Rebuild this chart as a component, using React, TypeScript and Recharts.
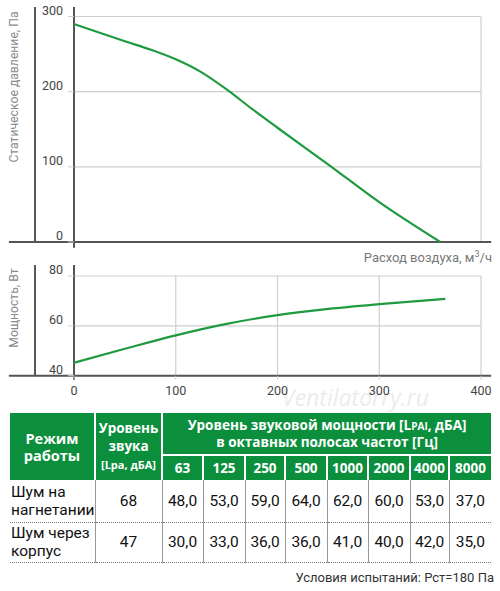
import { LineChart, Line, XAxis, YAxis, CartesianGrid, ReferenceLine } from 'recharts';

// fan curve: static pressure vs air flow
const flow = [0, 50, 75, 100, 125, 150, 175, 200, 250, 300, 360];
const pressure = [290, 267, 256, 243, 226, 203, 177, 152, 103, 53, 0];
// power consumption vs air flow
const powerFlow = [0, 50, 100, 150, 200, 250, 300, 365];
const power = [45.2, 50.8, 56.2, 60.8, 64.3, 66.8, 68.7, 70.8];

const flowTicks = [0, 100, 200, 300, 400];
const pressureTicks = [0, 100, 200, 300];
const powerTicks = [40, 60, 80];

// noise table
const modes = [['Шум на', 'нагнетании'], ['Шум через', 'корпус']];
const soundLevel = [68, 47];
const bands = ['63', '125', '250', '500', '1000', '2000', '4000', '8000'];
const bandLevels = [
    [48.0, 53.0, 59.0, 64.0, 62.0, 60.0, 53.0, 37.0],
    [30.0, 33.0, 36.0, 36.0, 41.0, 40.0, 42.0, 35.0],
];
const colWidths = [85, 67, 41, 42, 40, 42, 41, 42, 39, 42];

const pressureData = flow.map((f, i) => ({ flow: f, value: pressure[i] }));
const powerData = powerFlow.map((f, i) => ({ flow: f, value: power[i] }));

const GREEN = '#1e9a3f';
const HEADER = '#0b8f3d';
const AXIS = '#555';
const GRID = '#cfcfcf';
const FONT = '"Open Sans", sans-serif';
const BODY_FONT = 'Roboto, sans-serif';

const YTick = ({ x, y, payload }: any) => (
    <text x={x} y={y - 2} textAnchor="end" fill="#444" fontSize={12.5} fontFamily={BODY_FONT}>
        {payload.value}
    </text>
);

const XTick = ({ x, y, payload }: any) => (
    <text x={x} y={y} dy="0.71em" textAnchor="middle" fill="#444" fontSize={12.5} fontFamily={BODY_FONT}>
        {payload.value}
    </text>
);

const fmt = (v: number) => v.toFixed(1).replace('.', ',');

const th: React.CSSProperties = {
    background: HEADER,
    color: '#fff',
    fontWeight: 700,
    textAlign: 'center',
    borderRight: '2px solid #fff',
    padding: 0,
    fontFamily: FONT,
};

const td: React.CSSProperties = {
    borderLeft: '1px solid #999',
    borderBottom: '1px dotted #777',
    textAlign: 'center',
    padding: 0,
    fontSize: 15.5,
    color: '#111',
    fontFamily: BODY_FONT,
};

export default function App() {
    return (
        <div style={{ position: 'absolute', left: 0, top: 0, width: 500, height: 591, background: '#fff', fontFamily: BODY_FONT }}>
            {/* Pressure chart */}
            <div style={{ position: 'absolute', left: 0, top: 0 }}>
                <LineChart width={500} height={255} data={pressureData} margin={{ top: 16.5, right: 19, bottom: 5, left: 0 }}>
                    <CartesianGrid stroke={GRID} strokeWidth={1.2} />
                    <XAxis dataKey="flow" type="number" domain={[0, 400]} ticks={flowTicks} height={8}
                        axisLine={false} tick={false} tickLine={{ stroke: GRID }} tickSize={5} />
                    <YAxis type="number" domain={[0, 300]} ticks={pressureTicks} width={74}
                        axisLine={false} tickLine={{ stroke: GRID }} tickSize={6} tickMargin={5} tick={<YTick />} />
                    <ReferenceLine segment={[{ x: -64, y: 0 }, { x: 410, y: 0 }]} stroke={AXIS} strokeWidth={2} ifOverflow="visible" />
                    <ReferenceLine segment={[{ x: 0, y: -7.6 }, { x: 0, y: 312.6 }]} stroke={AXIS} strokeWidth={2} ifOverflow="visible" />
                    <ReferenceLine segment={[{ x: -38.3, y: 0 }, { x: -38.3, y: 312.6 }]} stroke={AXIS} strokeWidth={2} ifOverflow="visible" />
                    <Line type="monotone" dataKey="value" stroke={GREEN} strokeWidth={2.2} dot={false} isAnimationActive={false} />
                </LineChart>
            </div>
            <div style={{ position: 'absolute', left: 14, top: 87, transform: 'translate(-50%, -50%) rotate(-90deg)', whiteSpace: 'nowrap', fontSize: 12.2, color: '#8a8a8a' }}>
                Статическое давление, Па
            </div>
            <div style={{ position: 'absolute', right: 8, top: 249, whiteSpace: 'nowrap', fontSize: 13, color: '#777' }}>
                Расход воздуха, м<sup style={{ fontSize: 9 }}>3</sup>/ч
            </div>

            {/* watermark */}
            <div style={{ position: 'absolute', left: 282, top: 381, fontSize: 23, fontStyle: 'italic', color: '#ececec', whiteSpace: 'nowrap', fontFamily: FONT }}>
                Ventilatorry.ru
            </div>

            {/* Power chart */}
            <div style={{ position: 'absolute', left: 0, top: 255 }}>
                <LineChart width={500} height={150} data={powerData} margin={{ top: 21, right: 19, bottom: 0, left: 0 }}>
                    <CartesianGrid stroke={GRID} strokeWidth={1.2} />
                    <XAxis dataKey="flow" type="number" domain={[0, 400]} ticks={flowTicks} height={29.3}
                        axisLine={false} tickLine={{ stroke: GRID }} tickSize={4} tickMargin={6} tick={<XTick />} />
                    <YAxis type="number" domain={[40, 80]} ticks={powerTicks} width={74}
                        axisLine={false} tickLine={{ stroke: GRID }} tickSize={6} tickMargin={5} tick={<YTick />} />
                    <ReferenceLine segment={[{ x: -64, y: 40 }, { x: 410, y: 40 }]} stroke={AXIS} strokeWidth={2} ifOverflow="visible" />
                    <ReferenceLine segment={[{ x: 0, y: 38.3 }, { x: 0, y: 84.4 }]} stroke={AXIS} strokeWidth={2} ifOverflow="visible" />
                    <ReferenceLine segment={[{ x: -38.3, y: 40 }, { x: -38.3, y: 84.4 }]} stroke={AXIS} strokeWidth={2} ifOverflow="visible" />
                    <Line type="monotone" dataKey="value" stroke={GREEN} strokeWidth={2.2} dot={false} isAnimationActive={false} />
                </LineChart>
            </div>
            <div style={{ position: 'absolute', left: 14, top: 308, transform: 'translate(-50%, -50%) rotate(-90deg)', whiteSpace: 'nowrap', fontSize: 12.2, color: '#8a8a8a' }}>
                Мощность, Вт
            </div>

            {/* Noise table */}
            <table style={{ position: 'absolute', left: 10, top: 413, width: 481, borderCollapse: 'collapse', tableLayout: 'fixed' }}>
                <colgroup>
                    {colWidths.map((w, i) => <col key={i} style={{ width: w }} />)}
                </colgroup>
                <thead>
                    <tr style={{ height: 42 }}>
                        <th rowSpan={2} style={{ ...th, fontSize: 14.5, lineHeight: '17px' }}>Режим<br />работы</th>
                        <th rowSpan={2} style={{ ...th, fontSize: 13.5, lineHeight: '18px' }}>
                            Уровень<br />звука<br /><span style={{ fontSize: 11 }}>[Lра, дБА]</span>
                        </th>
                        <th colSpan={8} style={{ ...th, borderRight: 'none', borderBottom: '2px solid #fff', fontSize: 13.5, lineHeight: '16px' }}>
                            Уровень звуковой мощности [L<span style={{ fontSize: 10 }}>PAI</span>, дБА]<br />в октавных полосах частот [Гц]
                        </th>
                    </tr>
                    <tr style={{ height: 25 }}>
                        {bands.map((b, i) => (
                            <th key={b} style={{ ...th, fontSize: 13.5, borderRight: i === bands.length - 1 ? 'none' : th.borderRight }}>{b}</th>
                        ))}
                    </tr>
                </thead>
                <tbody>
                    {modes.map((m, r) => (
                        <tr key={r} style={{ height: r === 0 ? 42 : 40 }}>
                            <td style={{ ...td, borderLeft: 'none', textAlign: 'left', lineHeight: '18px', paddingLeft: 1 }}>{m[0]}<br />{m[1]}</td>
                            <td style={td}>{soundLevel[r]}</td>
                            {bandLevels[r].map((v, c) => <td key={c} style={td}>{fmt(v)}</td>)}
                        </tr>
                    ))}
                </tbody>
            </table>

            <div style={{ position: 'absolute', right: 6, top: 570, fontSize: 13, color: '#333', whiteSpace: 'nowrap' }}>
                Условия испытаний: Рст=180 Па
            </div>
        </div>
    );
}
